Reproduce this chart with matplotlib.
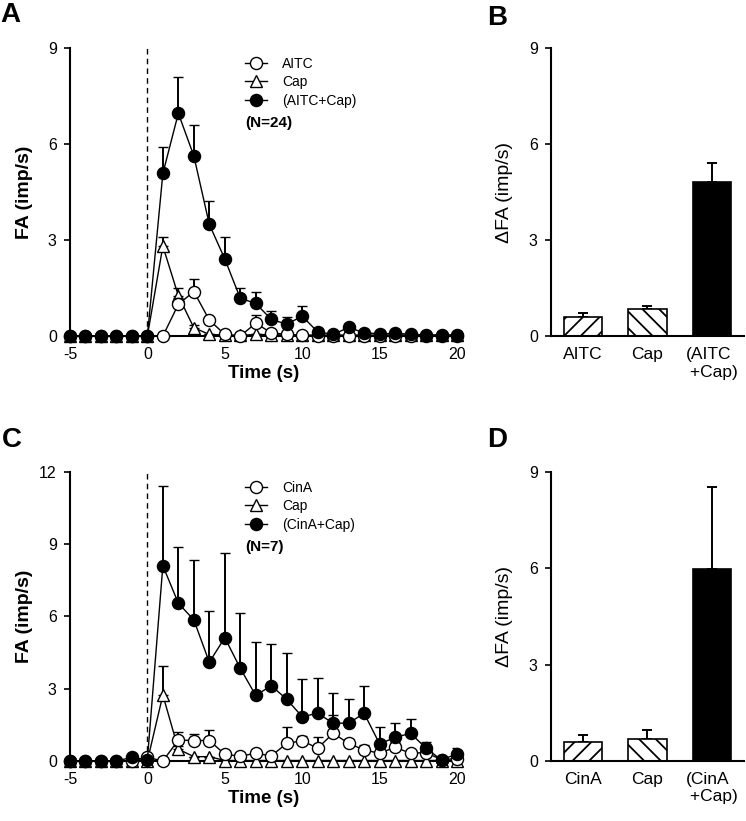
import numpy as np
import matplotlib
matplotlib.use("Agg")
import matplotlib.pyplot as plt
from matplotlib.lines import Line2D

plt.rcParams['font.family'] = ['Liberation Sans', 'DejaVu Sans']
plt.rcParams['axes.unicode_minus'] = False
plt.rcParams['hatch.linewidth'] = 1.3

# time axis, seconds
time_s = [-5, -4, -3, -2, -1, 0, 1, 2, 3, 4, 5, 6, 7, 8, 9, 10,
          11, 12, 13, 14, 15, 16, 17, 18, 19, 20]

# Panel A (N=24)
aitc_mean = [0, 0, 0, 0, 0, 0, 0, 0.99, 1.39, 0.5, 0.05, 0, 0.4, 0.1, 0.05, 0.02,
             0, 0, 0, 0, 0, 0, 0, 0, 0, 0]
aitc_err = [0, 0, 0, 0, 0, 0, 0, 0.2, 0.4, 0.1, 0, 0, 0.26, 0, 0, 0,
            0, 0, 0, 0, 0, 0, 0, 0, 0, 0]
capA_mean = [0, 0, 0, 0, 0, 0, 2.81, 1.26, 0.26, 0.05, 0.03, 0.02, 0.05, 0.04, 0.03, 0.03,
             0.03, 0.03, 0.03, 0.03, 0.03, 0.03, 0.03, 0.03, 0.03, 0.03]
capA_err = [0, 0, 0, 0, 0, 0, 0.27, 0.25, 0.1, 0, 0, 0, 0, 0, 0, 0,
            0, 0, 0, 0, 0, 0, 0, 0, 0, 0]
combA_mean = [0, 0, 0, 0, 0, 0, 5.08, 6.96, 5.63, 3.49, 2.41, 1.18, 1.02, 0.52, 0.37, 0.62,
              0.13, 0.05, 0.27, 0.1, 0.07, 0.08, 0.06, 0.03, 0.03, 0.03]
combA_err = [0, 0, 0, 0, 0, 0, 0.82, 1.15, 0.95, 0.73, 0.7, 0.33, 0.35, 0.25, 0.23, 0.32,
             0.08, 0, 0.12, 0, 0, 0, 0, 0, 0, 0]

# Panel C (N=7)
cina_mean = [0, 0, 0, 0, 0, 0.15, 0, 0.87, 0.85, 0.85, 0.28, 0.2, 0.32, 0.21, 0.73, 0.84,
             0.53, 1.15, 0.73, 0.46, 0.32, 0.57, 0.32, 0.35, 0.05, 0.1]
cina_err = [0, 0, 0, 0, 0, 0, 0, 0.35, 0.28, 0.44, 0, 0, 0, 0, 0.7, 0.2,
            0.45, 0.76, 0.2, 0.19, 0, 0.2, 0.1, 0.15, 0, 0]
capC_mean = [0, 0, 0, 0, 0, 0, 2.74, 0.49, 0.18, 0.18, 0.02, 0.02, 0.02, 0.02, 0.02, 0.02,
             0.02, 0.02, 0.02, 0.02, 0.02, 0.02, 0.02, 0.02, 0.02, 0.02]
capC_err = [0, 0, 0, 0, 0, 0, 1.22, 0.15, 0, 0, 0, 0, 0, 0, 0, 0,
            0, 0, 0, 0, 0, 0, 0, 0, 0, 0]
combC_mean = [0, 0, 0, 0, 0.15, 0.05, 8.11, 6.55, 5.86, 4.1, 5.12, 3.85, 2.72, 3.13, 2.56, 1.84,
              1.98, 1.57, 1.57, 1.98, 0.71, 0.98, 1.15, 0.53, 0.04, 0.3]
combC_err = [0, 0, 0, 0, 0, 0, 3.3, 2.35, 2.5, 2.13, 3.53, 2.31, 2.22, 1.73, 1.93, 1.56,
             1.46, 1.24, 0.99, 1.15, 0.72, 0.59, 0.59, 0.27, 0, 0.25]

# Panels B and D
barB_labels = ['AITC', 'Cap', '(AITC\n +Cap)']
barB_mean = [0.58, 0.83, 4.82]
barB_err = [0.15, 0.11, 0.6]
barD_labels = ['CinA', 'Cap', '(CinA\n +Cap)']
barD_mean = [0.59, 0.69, 5.97]
barD_err = [0.23, 0.29, 2.57]

fig = plt.figure(figsize=(7.46, 8.21), dpi=100)
axA = fig.add_axes([0.0938, 0.5907, 0.5188, 0.3508])
axB = fig.add_axes([0.7386, 0.5907, 0.2587, 0.3508])
axC = fig.add_axes([0.0938, 0.0731, 0.5188, 0.3520])
axD = fig.add_axes([0.7386, 0.0731, 0.2587, 0.3520])


def style_axes(ax):
    for s in ['top', 'right']:
        ax.spines[s].set_visible(False)
    ax.spines['left'].set_linewidth(1.5)
    ax.spines['bottom'].set_linewidth(1.5)
    ax.tick_params(axis='y', direction='out', length=4.5, width=1.2, pad=5, labelsize=11.5)
    ax.tick_params(axis='x', length=0, pad=8, labelsize=11.5)


def series(ax, mean, err, marker, mfc, z):
    lower = np.zeros(len(err))
    cont = ax.errorbar(time_s, mean, yerr=[lower, err], fmt='-', marker=marker,
                       color='black', mfc=mfc, mec='black', ms=8.7, mew=1.0, lw=1.0,
                       elinewidth=1.4, capsize=3.5, capthick=1.4, zorder=z)
    for art in cont.lines[0:1]:
        art.set_clip_on(False)
    return cont


def time_panel(ax, data, ymax, names, ntext):
    ax.axvline(0, color='black', ls=(0, (4, 3)), lw=1.0, zorder=1)
    (c_m, c_e), (t_m, t_e), (f_m, f_e) = data
    series(ax, t_m, t_e, '^', 'white', 3)
    series(ax, c_m, c_e, 'o', 'white', 4)
    series(ax, f_m, f_e, 'o', 'black', 5)
    ax.set_xlim(-5, 20)
    ax.set_ylim(0, ymax)
    ax.set_xticks([-5, 0, 5, 10, 15, 20])
    ax.set_yticks(np.arange(0, ymax + 1, 3))
    style_axes(ax)
    ax.set_xlabel('Time (s)', fontsize=13.5, fontweight='bold', labelpad=2)
    ax.set_ylabel('FA (imp/s)', fontsize=14, fontweight='bold')
    ax.yaxis.set_label_coords(-0.096, 0.5)
    handles = [
        Line2D([], [], color='black', lw=1.0, marker='o', mfc='white', mec='black', ms=8.7),
        Line2D([], [], color='black', lw=1.0, marker='^', mfc='white', mec='black', ms=8.7),
        Line2D([], [], color='black', lw=1.0, marker='o', mfc='black', mec='black', ms=8.7),
    ]
    ax.legend(handles, names, loc='upper left', bbox_to_anchor=(0.452, 0.97),
              frameon=False, fontsize=10, handlelength=1.6, handletextpad=1.1,
              borderpad=0, borderaxespad=0, labelspacing=0.33)
    ax.text(0.452, 0.74, ntext, transform=ax.transAxes, fontsize=11,
            fontweight='bold', ha='left', va='center')


def bar_panel(ax, labels, mean, err):
    x = np.arange(len(mean))
    ax.bar(x[:2], mean[:2], width=0.6, color='white', edgecolor='black',
           linewidth=1.2, hatch=None, zorder=2)
    ax.patches[0].set_hatch('//')
    ax.patches[1].set_hatch('\\\\')
    ax.bar(x[2:], mean[2:], width=0.6, color='black', edgecolor='black',
           linewidth=1.2, zorder=2)
    ax.errorbar(x, mean, yerr=[np.zeros(len(err)), err], fmt='none', ecolor='black',
                elinewidth=1.4, capsize=3.5, capthick=1.4, zorder=1)
    ax.set_xlim(-0.5, 2.5)
    ax.set_ylim(0, 9)
    ax.set_yticks([0, 3, 6, 9])
    ax.set_xticks(x)
    ax.set_xticklabels(labels, multialignment='left')
    style_axes(ax)
    ax.tick_params(axis='x', labelsize=12.5, pad=8)
    ax.set_ylabel('\u0394FA (imp/s)', fontsize=14)
    ax.yaxis.set_label_coords(-0.197, 0.5)


time_panel(axA, [(aitc_mean, aitc_err), (capA_mean, capA_err), (combA_mean, combA_err)],
           9, ['AITC', 'Cap', '(AITC+Cap)'], '(N=24)')
time_panel(axC, [(cina_mean, cina_err), (capC_mean, capC_err), (combC_mean, combC_err)],
           12, ['CinA', 'Cap', '(CinA+Cap)'], '(N=7)')
bar_panel(axB, barB_labels, barB_mean, barB_err)
bar_panel(axD, barD_labels, barD_mean, barD_err)

H = 821.0
for letter, xp, yp in [('A', 0, 21.7), ('B', 487, 25), ('C', 2, 446.7), ('D', 487, 447)]:
    fig.text(xp / 746.0, 1 - yp / H, letter, fontsize=20, fontweight='bold',
             ha='left', va='baseline')

fig.savefig('out.png', dpi=100)
